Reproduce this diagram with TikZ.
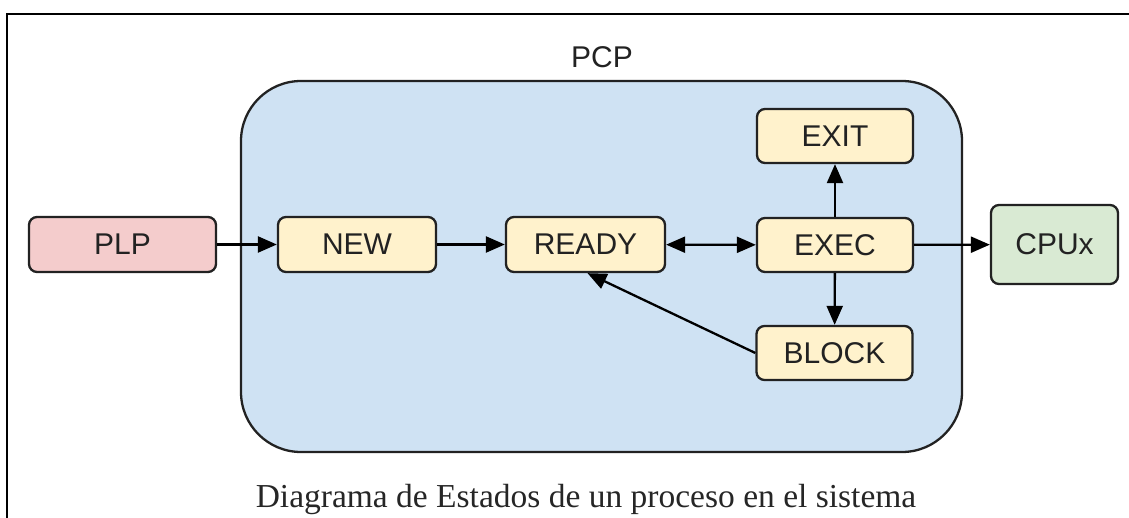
\documentclass[tikz,border=0pt]{standalone}
\usepackage{fontspec}
\setmainfont{Liberation Sans}
\newfontfamily\capfont{Liberation Serif}
\usetikzlibrary{arrows.meta}
\definecolor{pcpfill}{HTML}{CFE2F3}
\definecolor{stfill}{HTML}{FFF2CC}
\definecolor{plpfill}{HTML}{F4CCCC}
\definecolor{cpufill}{HTML}{D9EAD3}
\definecolor{ink}{HTML}{222222}
\tikzset{
  statebox/.style={draw=ink, line width=2.3pt, rounded corners=8pt, inner sep=0pt,
    minimum height=55pt, text=ink, font=\fontsize{30}{33}\selectfont},
  conn/.style={draw=black, line width=2.3pt, -{Triangle[length=19pt,width=16pt]}},
  conn2/.style={draw=black, line width=2.3pt, {Triangle[length=19pt,width=16pt]}-{Triangle[length=19pt,width=16pt]}},
}
\begin{document}
\begin{tikzpicture}[x=1pt,y=-1pt]
\useasboundingbox (0,0) rectangle (1129,518);
% frame (top and left lines)
\draw[line width=2.5pt, black] (7,518) -- (7,14) -- (1129,14);
% PCP container
\draw[draw=ink, line width=2.3pt, fill=pcpfill, rounded corners=60pt] (241,81) rectangle (962,452);
\node[anchor=base, text=ink, font=\fontsize{30}{33}\selectfont] (pcp) at (602,68) {PCP};
% states
\node[statebox, fill=plpfill, minimum width=187pt] (plp) at (122.5,244.5) {PLP};
\node[statebox, fill=stfill, minimum width=158pt] (new) at (357,244.5) {NEW};
\node[statebox, fill=stfill, minimum width=159pt] (ready) at (585.5,244.5) {READY};
\node[statebox, fill=stfill, minimum width=156pt, minimum height=54pt] (exec) at (835,245) {EXEC};
\node[statebox, fill=stfill, minimum width=156pt, minimum height=54pt] (exit) at (835,136) {EXIT};
\node[statebox, fill=stfill, minimum width=156pt, minimum height=54pt] (block) at (834.5,353) {BLOCK};
\node[statebox, fill=cpufill, minimum width=127pt, minimum height=79pt] (cpu) at (1054.5,244.5) {CPUx};
% connectors
\draw[conn] (plp) -- (new);
\draw[conn] (new) -- (ready);
\draw[conn2] (ready) -- (exec);
\draw[conn] (exec) -- (exit);
\draw[conn] (exec) -- (block);
\draw[conn] (block.west) -- ([xshift=2pt]ready.south);
\draw[conn] (exec) -- (cpu);
% caption
\node[anchor=base, text=black!85, font=\capfont\fontsize{33.5}{36}\selectfont] (cap) at (586,507) {Diagrama de Estados de un proceso en el sistema};
\end{tikzpicture}
\end{document}
